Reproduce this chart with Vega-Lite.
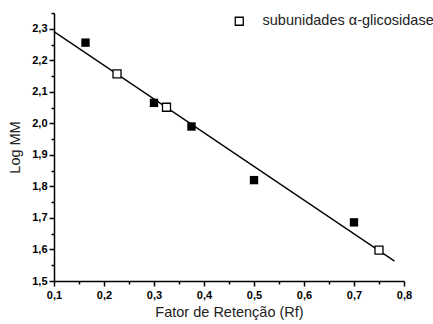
{
  "$schema": "https://vega.github.io/schema/vega-lite/v6.json",
  "width": 350,
  "height": 268,
  "autosize": {"type": "none"},
  "padding": {"left": 54, "top": 13, "right": 29, "bottom": 43},
  "background": "white",
  "config": {
    "view": {"stroke": null},
    "font": "Liberation Sans",
    "axis": {
      "grid": false,
      "domainColor": "black",
      "domainWidth": 1.5,
      "tickColor": "black",
      "tickWidth": 1.5,
      "labelFont": "Liberation Sans",
      "labelFontSize": 11,
      "labelFontWeight": "bold",
      "labelColor": "black",
      "labelOverlap": false,
      "labelFlush": false,
      "titleFont": "Liberation Sans",
      "titleFontSize": 14.5,
      "titleFontWeight": "normal",
      "titleColor": "#222"
    }
  },
  "datasets": {
    "pontos": [
      {"rf": 0.163, "logmm": 2.256, "grupo": "padrão"},
      {"rf": 0.300, "logmm": 2.065, "grupo": "padrão"},
      {"rf": 0.375, "logmm": 1.990, "grupo": "padrão"},
      {"rf": 0.500, "logmm": 1.820, "grupo": "padrão"},
      {"rf": 0.700, "logmm": 1.686, "grupo": "padrão"},
      {"rf": 0.226, "logmm": 2.157, "grupo": "subunidades α-glicosidase"},
      {"rf": 0.325, "logmm": 2.051, "grupo": "subunidades α-glicosidase"},
      {"rf": 0.750, "logmm": 1.598, "grupo": "subunidades α-glicosidase"}
    ],
    "ajuste": [
      {"rf": 0.100, "logmm": 2.291},
      {"rf": 0.781, "logmm": 1.563}
    ]
  },
  "encoding": {
    "x": {
      "field": "rf",
      "type": "quantitative",
      "scale": {"domain": [0.1, 0.8], "nice": false, "zero": false},
      "axis": {
        "title": "Fator de Retenção (Rf)",
        "values": [0.1, 0.15, 0.2, 0.25, 0.3, 0.35, 0.4, 0.45, 0.5, 0.55, 0.6, 0.65, 0.7, 0.75, 0.8],
        "labelExpr": "abs(datum.value * 10 - round(datum.value * 10)) < 0.001 ? replace(format(datum.value, '.1f'), '.', ',') : ''",
        "tickSize": {"condition": {"test": "abs(datum.value * 10 - round(datum.value * 10)) < 0.001", "value": 5}, "value": 3},
        "labelPadding": 3,
        "titlePadding": 5
      }
    },
    "y": {
      "field": "logmm",
      "type": "quantitative",
      "scale": {"domain": [1.5, 2.35], "nice": false, "zero": false},
      "axis": {
        "title": "Log MM",
        "values": [1.5, 1.55, 1.6, 1.65, 1.7, 1.75, 1.8, 1.85, 1.9, 1.95, 2.0, 2.05, 2.1, 2.15, 2.2, 2.25, 2.3, 2.35],
        "labelExpr": "abs(datum.value * 10 - round(datum.value * 10)) < 0.001 ? replace(format(datum.value, '.1f'), '.', ',') : ''",
        "tickSize": {"condition": {"test": "abs(datum.value * 10 - round(datum.value * 10)) < 0.001", "value": 5}, "value": 3},
        "labelPadding": 2,
        "titlePadding": 9
      }
    }
  },
  "layer": [
    {
      "data": {"name": "ajuste"},
      "mark": {"type": "line", "color": "black", "strokeWidth": 1.3},
      "encoding": {}
    },
    {
      "data": {"name": "pontos"},
      "transform": [{"filter": "datum.grupo === 'padrão'"}],
      "mark": {"type": "point", "shape": "square", "filled": true, "color": "black", "size": 70, "opacity": 1},
      "encoding": {}
    },
    {
      "data": {"name": "pontos"},
      "transform": [{"filter": "datum.grupo !== 'padrão'"}],
      "mark": {"type": "point", "shape": "square", "filled": false, "fill": "white", "fillOpacity": 1, "strokeWidth": 1.3, "size": 64, "opacity": 1},
      "encoding": {
        "stroke": {
          "field": "grupo",
          "type": "nominal",
          "scale": {"range": ["black"]},
          "legend": {
            "title": null,
            "orient": "none",
            "legendX": 178,
            "legendY": 1,
            "symbolType": "square",
            "symbolSize": 64,
            "symbolFillColor": "white",
            "symbolStrokeColor": "black",
            "symbolStrokeWidth": 1.3,
            "labelFont": "Liberation Sans",
            "labelFontSize": 14.5,
            "labelColor": "#222",
            "labelOffset": 16,
            "labelLimit": 300,
            "padding": 0
          }
        }
      }
    }
  ]
}
